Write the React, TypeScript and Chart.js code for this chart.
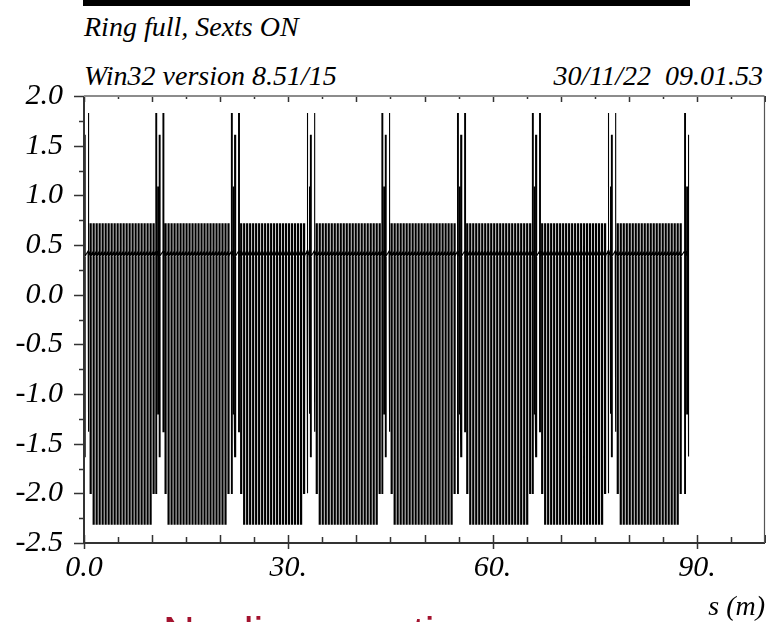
import React, { useEffect, useRef } from "react";
import { Chart, registerables } from "chart.js";

Chart.register(...registerables);

// ---- data ----
// positions (m) of the spike groups that separate the cells
const boundaries = [0.1, 11.1, 22.2, 33.3, 44.3, 55.4, 66.4, 77.5, 88.75];
// spike group, offsets (m) relative to a boundary
const spikeOffsets = [-0.55, -0.25, -0.05, 0.5];
const spikeTops = [1.83, 1.09, 1.61, 1.83];
const spikeBottoms = [-2.0, -1.2, -1.63, -1.38];
// fast oscillations inside a cell, offsets (m) from the cell's starting boundary
const strokeOffsets = [
  0.8, 1.24, 1.68, 2.12, 2.56, 3.0, 3.44, 3.88, 4.32, 4.76, 5.2, 5.64, 6.08,
  6.52, 6.96, 7.4, 7.84, 8.28, 8.72, 9.16, 9.6, 10.04,
];
const strokeTops = [
  0.72, 0.72, 0.72, 0.72, 0.72, 0.72, 0.72, 0.72, 0.72, 0.72, 0.72, 0.72, 0.72,
  0.72, 0.72, 0.72, 0.72, 0.72, 0.72, 0.72, 0.72, 0.72,
];
const strokeBottoms = [
  -2.0, -2.31, -2.31, -2.31, -2.31, -2.31, -2.31, -2.31, -2.31, -2.31, -2.31,
  -2.31, -2.31, -2.31, -2.31, -2.31, -2.31, -2.31, -2.31, -2.31, -2.31, -2.0,
];
// the dark band between the oscillations (entry / exit level)
const baseIn = 0.44;
const baseOut = 0.39;
const ringEnd = 88.9;

const xTicks = [0, 30, 60, 90];
const xTickLabels = ["0.0", "30.", "60.", "90."];
const yTicks = [-2.5, -2.0, -1.5, -1.0, -0.5, 0.0, 0.5, 1.0, 1.5, 2.0];
const yTickLabels = ["-2.5", "-2.0", "-1.5", "-1.0", "-0.5", "0.0", "0.5", "1.0", "1.5", "2.0"];
const xTickMarks = [0, 5, 10, 15, 20, 25, 30, 35, 40, 45, 50, 55, 60, 65, 70, 75, 80, 85, 90, 95, 100];
const yTickMarks = [-2.5, -2.25, -2.0, -1.75, -1.5, -1.25, -1.0, -0.75, -0.5, -0.25, 0.0, 0.25, 0.5, 0.75, 1.0, 1.25, 1.5, 1.75, 2.0];

const titleText = "Ring full, Sexts ON";
const versionText = "Win32 version 8.51/15";
const dateText = "30/11/22  09.01.53";
const xAxisTitle = "s (m)";
const captionText = "Nonlinear optics";

const SERIF = "'Liberation Serif', 'Times New Roman', 'DejaVu Serif', serif";

type P = { x: number; y: number };

function buildPoints(): P[] {
  const pts: P[] = [];
  const mark = (x: number, top: number, bottom: number, w: number) => {
    pts.push(
      { x, y: baseIn },
      { x, y: top },
      { x, y: bottom },
      { x: x + w, y: bottom },
      { x: x + w, y: top },
      { x: x + w, y: baseOut }
    );
  };
  boundaries.forEach((b, i) => {
    spikeOffsets.forEach((o, k) => {
      const x = b + o;
      if (x < 0 || x > ringEnd) return;
      if (i === boundaries.length - 1 && o > 0) return;
      mark(x, spikeTops[k], spikeBottoms[k], 0.12);
    });
    if (i < boundaries.length - 1) {
      strokeOffsets.forEach((o, k) => {
        mark(b + o, strokeTops[k], strokeBottoms[k], 0.16);
      });
    }
  });
  return pts;
}

const framePlugin = {
  id: "madFrame",
  afterDraw(chart: any) {
    const { ctx, chartArea: a, scales } = chart;
    const xs = scales.x;
    const ys = scales.y;
    ctx.save();
    ctx.strokeStyle = "#333";
    ctx.lineWidth = 1.5;
    ctx.beginPath();
    xTickMarks.forEach((v) => {
      const px = Math.round(xs.getPixelForValue(v)) + 0.5;
      const major = v % 10 === 0;
      const labelled = xTicks.includes(v);
      ctx.moveTo(px, a.bottom + (labelled ? 6 : 0));
      ctx.lineTo(px, a.bottom - (major ? 8 : 6));
      ctx.moveTo(px, a.top);
      ctx.lineTo(px, a.top + (major ? 6 : 3));
    });
    yTickMarks.forEach((v) => {
      const py = Math.round(ys.getPixelForValue(v)) + 0.5;
      const major = Math.abs((v * 2) % 1) < 1e-6;
      ctx.moveTo(a.left, py);
      ctx.lineTo(a.left - (major ? 10 : 5), py);
    });
    ctx.stroke();
    ctx.lineWidth = 2;
    ctx.strokeStyle = "#333";
    ctx.beginPath();
    ctx.moveTo(a.left, a.top);
    ctx.lineTo(a.left, a.bottom);
    ctx.lineTo(a.right, a.bottom);
    ctx.stroke();
    ctx.strokeStyle = "#8c8c8c";
    ctx.beginPath();
    ctx.moveTo(a.left, a.top);
    ctx.lineTo(a.right - 0.5, a.top);
    ctx.stroke();
    ctx.lineWidth = 1.2;
    ctx.strokeStyle = "#555";
    ctx.beginPath();
    ctx.moveTo(a.right - 0.5, a.top);
    ctx.lineTo(a.right - 0.5, a.bottom);
    ctx.stroke();
    ctx.restore();
  },
};

export default function App() {
  const canvasRef = useRef<HTMLCanvasElement | null>(null);

  useEffect(() => {
    if (!canvasRef.current) return;
    const chart = new Chart(canvasRef.current, {
      type: "line",
      data: {
        datasets: [
          {
            data: buildPoints(),
            borderColor: "#000",
            borderWidth: 1.1,
            pointRadius: 0,
            tension: 0,
            fill: false,
          },
        ],
      },
      options: {
        animation: false,
        responsive: true,
        maintainAspectRatio: false,
        events: [],
        layout: { padding: { left: 0, right: 1, top: 96, bottom: 0 } },
        plugins: { legend: { display: false }, tooltip: { enabled: false } },
        scales: {
          x: {
            type: "linear",
            min: 0,
            max: 100,
            grid: { display: false, drawTicks: false },
            border: { display: false },
            afterBuildTicks: (s: any) => {
              s.ticks = xTicks.map((v) => ({ value: v }));
            },
            afterFit: (s: any) => {
              s.height = 79;
            },
            ticks: {
              padding: 7,
              maxRotation: 0,
              autoSkip: false,
              color: "#000",
              font: { family: SERIF, style: "italic", size: 30 },
              callback: (v: any) => xTickLabels[xTicks.indexOf(Number(v))] ?? "",
            },
            title: {
              display: true,
              text: xAxisTitle,
              align: "end",
              color: "#000",
              padding: { top: 0, bottom: 0 },
              font: { family: SERIF, style: "italic", size: 28, lineHeight: 1 },
            },
          },
          y: {
            type: "linear",
            min: -2.5,
            max: 2.0,
            grid: { display: false, drawTicks: false },
            border: { display: false },
            afterBuildTicks: (s: any) => {
              s.ticks = yTicks.map((v) => ({ value: v }));
            },
            afterFit: (s: any) => {
              s.width = 84;
            },
            ticks: {
              padding: 21,
              autoSkip: false,
              color: "#000",
              font: { family: SERIF, style: "italic", size: 30 },
              callback: (v: any) => {
                const i = yTicks.findIndex((t) => Math.abs(t - Number(v)) < 1e-9);
                return i >= 0 ? yTickLabels[i] : "";
              },
            },
          },
        },
      },
      plugins: [framePlugin],
    } as any);
    return () => chart.destroy();
  }, []);

  const headStyle: React.CSSProperties = {
    position: "absolute",
    fontFamily: SERIF,
    fontStyle: "italic",
    fontSize: 28,
    lineHeight: "28px",
    color: "#000",
    whiteSpace: "pre",
  };

  return (
    <div
      style={{
        position: "fixed",
        left: 0,
        top: 0,
        width: 766,
        height: 622,
        background: "#fff",
        overflow: "hidden",
      }}
    >
      <div style={{ position: "absolute", left: 83, top: 0, width: 607, height: 6, background: "#000" }} />
      <div style={{ ...headStyle, left: 84, top: 13 }}>{titleText}</div>
      <div style={{ ...headStyle, left: 84, top: 62 }}>{versionText}</div>
      <div style={{ ...headStyle, right: 3, top: 62 }}>{dateText}</div>
      <div style={{ position: "absolute", left: 0, top: 0, width: 766, height: 622 }}>
        <canvas ref={canvasRef} />
      </div>
      <div
        style={{
          position: "absolute",
          left: 163,
          top: 611,
          fontFamily: "'Liberation Sans', Arial, sans-serif",
          fontSize: 44,
          lineHeight: "44px",
          color: "#a3122e",
          whiteSpace: "pre",
        }}
      >
        {captionText}
      </div>
    </div>
  );
}
